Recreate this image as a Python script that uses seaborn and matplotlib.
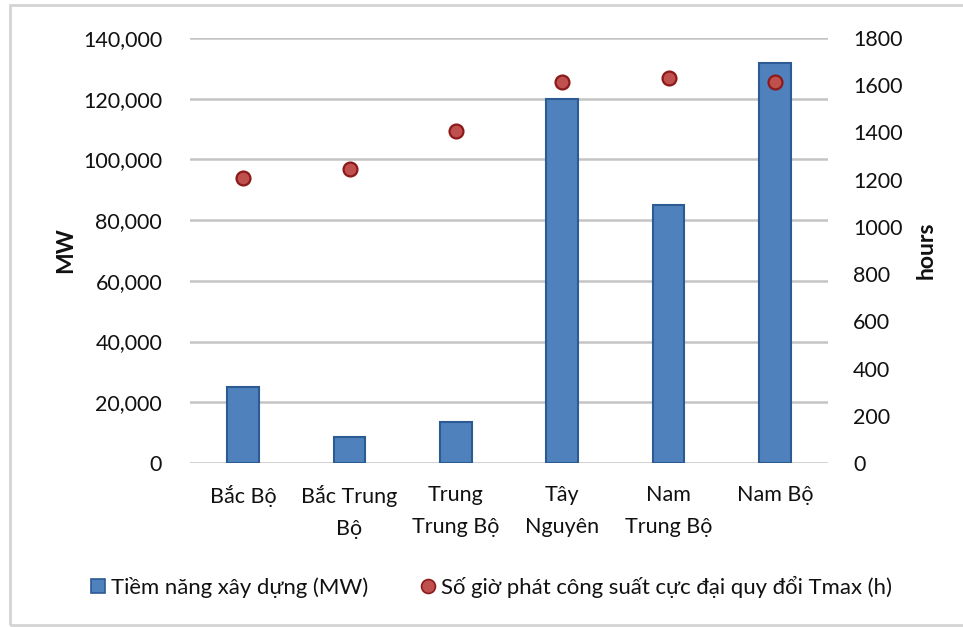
import matplotlib
matplotlib.use("Agg")
import matplotlib.pyplot as plt
from matplotlib.lines import Line2D
from matplotlib.patches import Rectangle
from matplotlib.ticker import FuncFormatter, MultipleLocator
import seaborn as sns
import pandas as pd

# Regions and their values
regions = ["Bắc Bộ", "Bắc Trung\nBộ", "Trung\nTrung Bộ", "Tây\nNguyên", "Nam\nTrung Bộ", "Nam Bộ"]
potential_mw = [25100, 8500, 13400, 119800, 84900, 131800]
tmax_hours = [1208, 1244, 1408, 1612, 1630, 1615]

bar_label = "Tiềm năng xây dựng (MW)"
dot_label = "Số giờ phát công suất cực đại quy đổi Tmax (h)"

df = pd.DataFrame({"region": regions, "mw": potential_mw, "hours": tmax_hours})

sns.set_theme(style="white")
plt.rcParams["font.family"] = ["Lato", "Open Sans", "DejaVu Sans"]

BAR = "#4F81BD"
BAR_EDGE = "#2C5A93"
DOT = "#C0504D"
DOT_EDGE = "#8C1A1A"
TXT = "#111111"
FS = 15.5

fig = plt.figure(figsize=(9.63, 6.27), dpi=100)
ax = fig.add_axes([190 / 963, 1 - 463 / 627, 638 / 963, 425 / 627])

sns.barplot(data=df, x="region", y="mw", color=BAR, width=0.3,
            edgecolor=BAR_EDGE, linewidth=1.5, saturation=1, ax=ax, zorder=3)
ax.set_ylim(0, 140000)
ax.yaxis.set_major_locator(MultipleLocator(20000))
ax.yaxis.set_major_formatter(FuncFormatter(lambda v, p: f"{int(v):,}"))
ax.grid(axis="y", color="#C4C4C4", linewidth=1.8, zorder=0)
ax.set_axisbelow(True)
ax.set_xlabel("")
ax.set_ylabel("MW", fontsize=FS + 1, fontweight="bold", color=TXT, labelpad=5)
ax.tick_params(axis="y", length=0, pad=20, labelsize=FS, labelcolor=TXT)
ax.tick_params(axis="x", length=0, pad=16, labelsize=FS, labelcolor=TXT)
for s in ax.spines.values():
    s.set_visible(False)

ax2 = ax.twinx()
sns.stripplot(data=df, x="region", y="hours", jitter=False, color=DOT,
              size=10, edgecolor=DOT_EDGE, linewidth=1.6, ax=ax2, zorder=4)
ax2.set_ylim(0, 1800)
ax2.yaxis.set_major_locator(MultipleLocator(200))
ax2.set_xlabel("")
ax2.set_ylabel("hours", fontsize=FS + 1, fontweight="bold", color=TXT, labelpad=9)
ax2.tick_params(axis="y", length=0, pad=18, labelsize=FS, labelcolor=TXT)
ax2.tick_params(axis="x", length=0)
ax2.grid(False)
for s in ax2.spines.values():
    s.set_visible(False)
ax.set_xlim(-0.5, len(regions) - 0.5)
ax.set_xticks(range(len(regions)))
ax.set_xticklabels(regions, linespacing=1.75)

handles = [
    Line2D([], [], marker="s", linestyle="none", markersize=10,
           markerfacecolor=BAR, markeredgecolor=BAR_EDGE, markeredgewidth=1.2),
    Line2D([], [], marker="o", linestyle="none", markersize=10,
           markerfacecolor=DOT, markeredgecolor=DOT_EDGE, markeredgewidth=1.2),
]
fig.legend(handles, [bar_label, dot_label], loc="center", ncol=2,
           bbox_to_anchor=(0.51, 1 - 587 / 627), frameon=False,
           fontsize=15.9, handlelength=0.7, handletextpad=0.2, columnspacing=2.4,
           labelcolor=TXT)

# outer chart frame
fig.patches.append(Rectangle((10 / 963, 2 / 627), 1.2, 1 - 7 / 627,
                             transform=fig.transFigure, fill=False,
                             edgecolor="#D4D4D4", linewidth=2))

fig.savefig("out.png", dpi=100)
